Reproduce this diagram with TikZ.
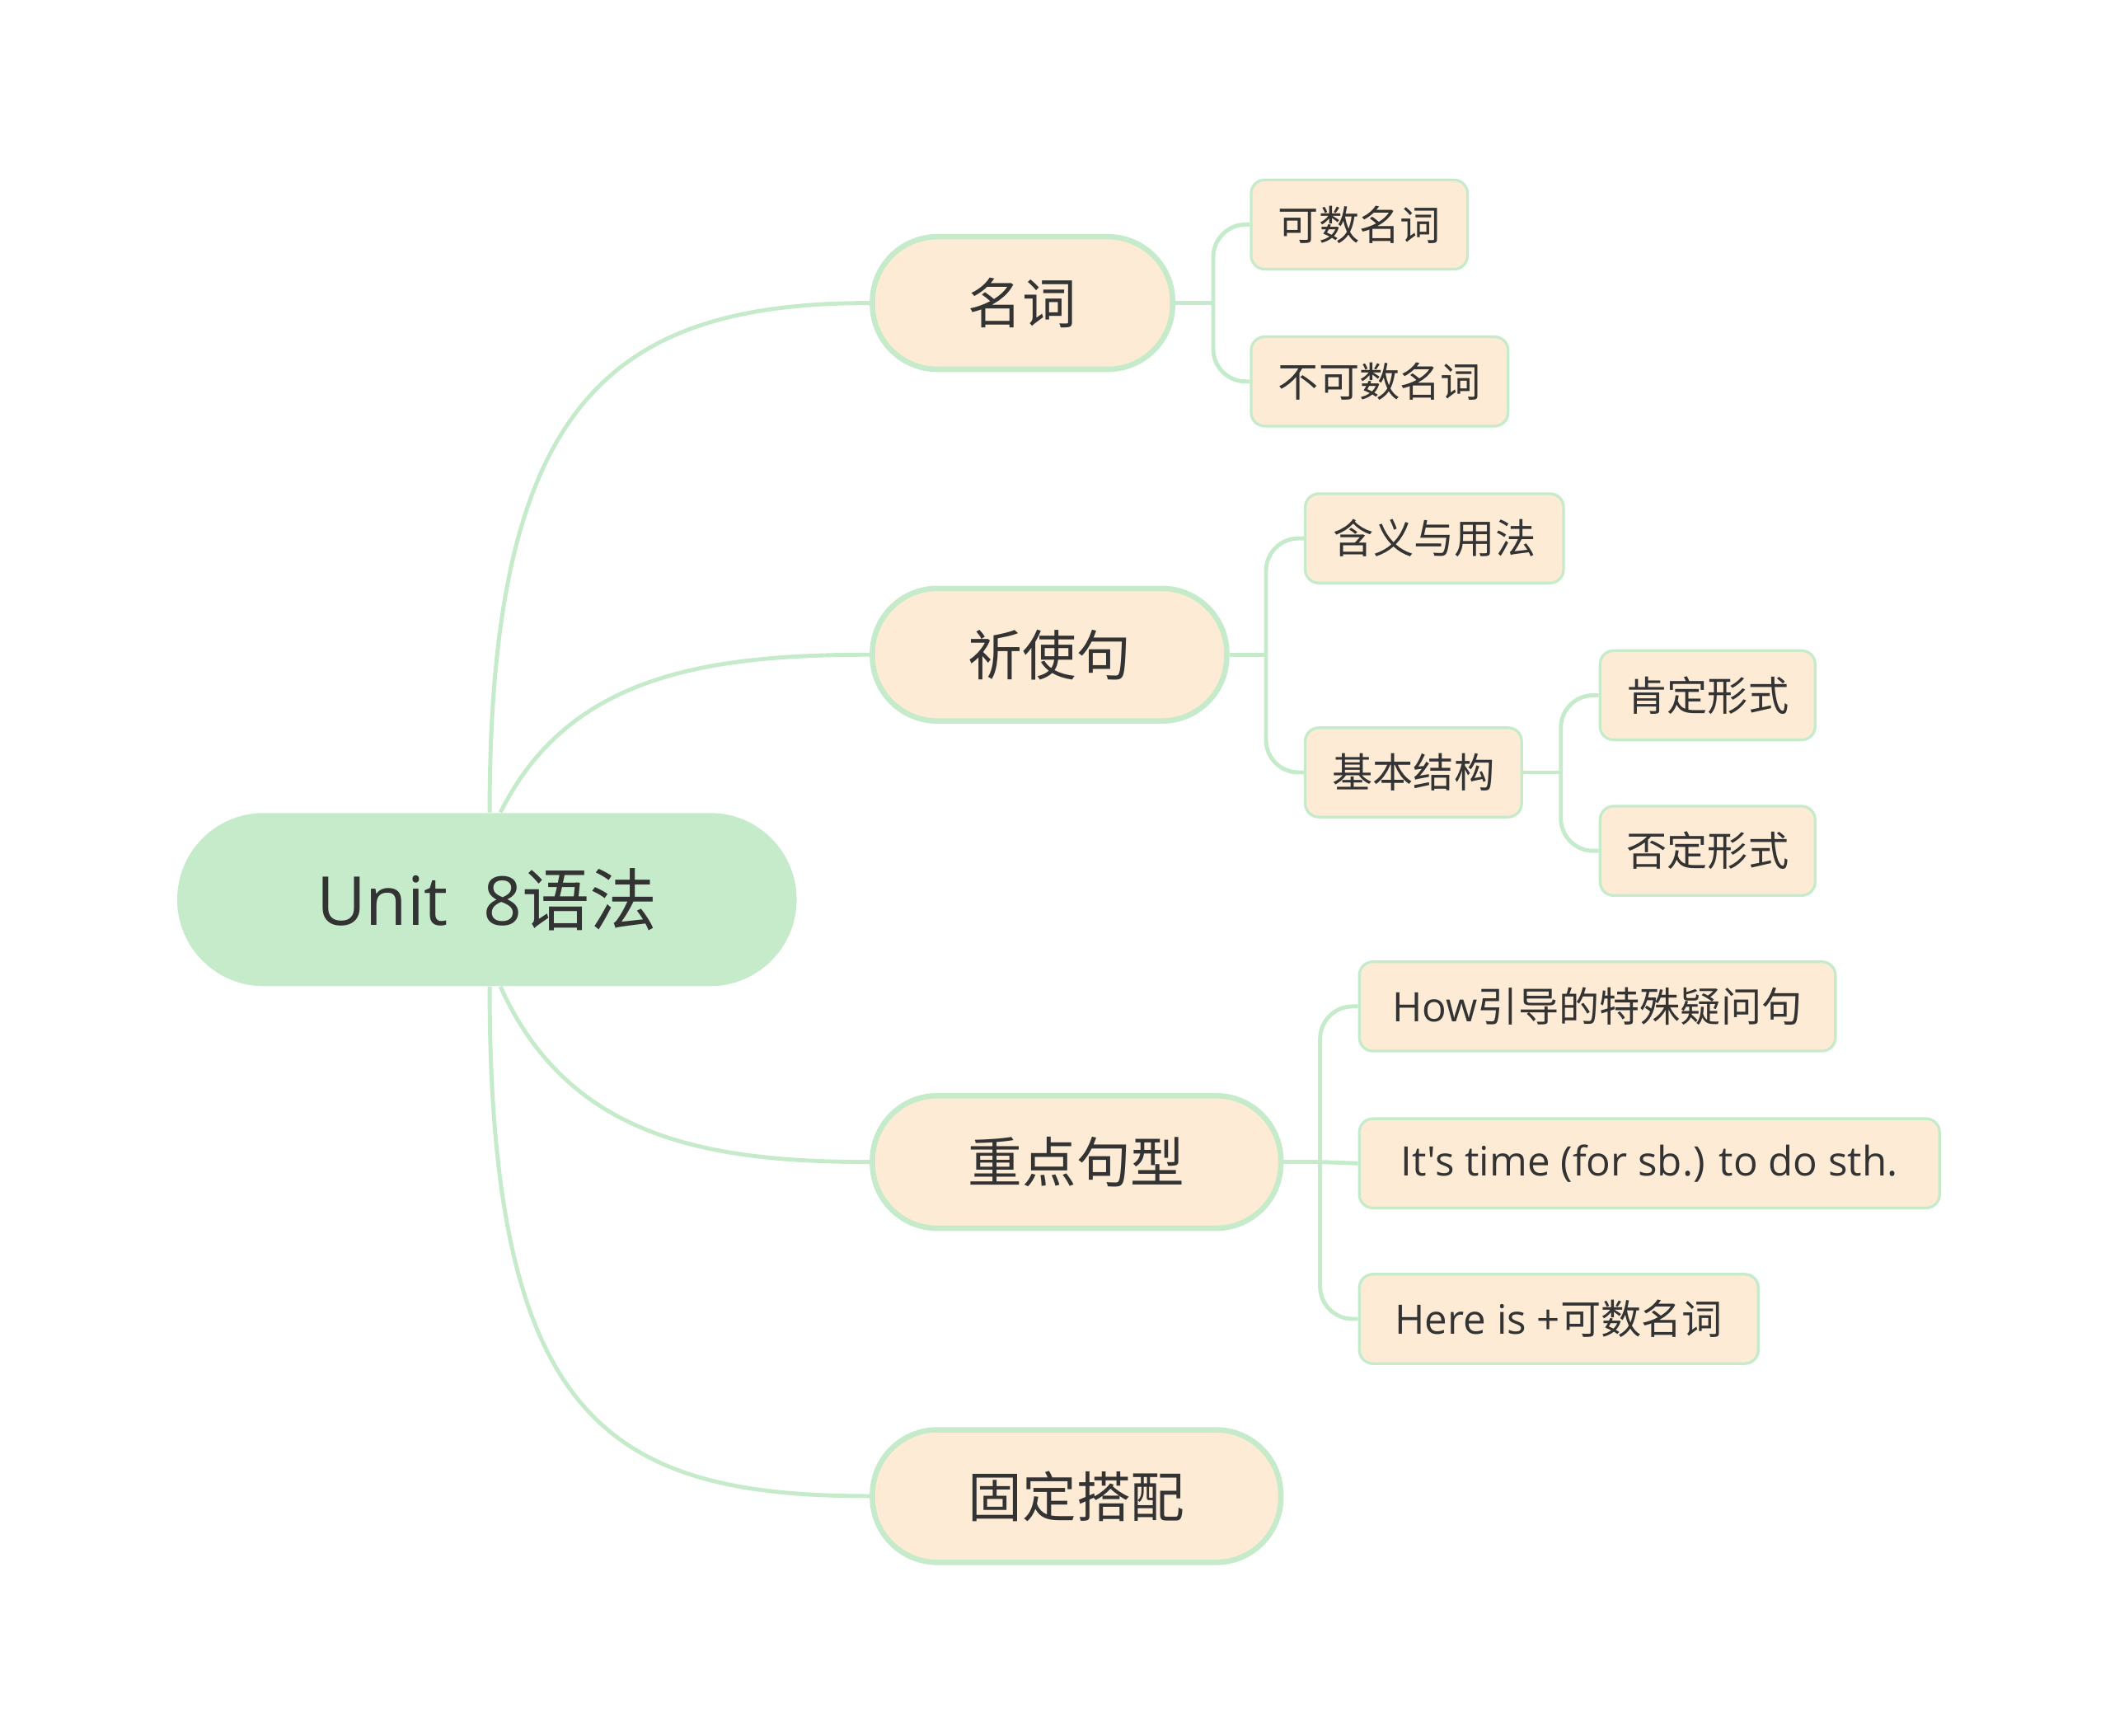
\documentclass[tikz,border=0pt]{standalone}
\usepackage{fontspec}
\setmainfont{Noto Sans CJK SC}
\newfontfamily\lat{Open Sans}
\definecolor{lg}{HTML}{C5EBCB}
\definecolor{pe}{HTML}{FDEBD5}
\definecolor{tx}{HTML}{333333}
\begin{document}
\begin{tikzpicture}[x=0.5pt,y=-0.5pt,
  rootn/.style={fill=lg,rounded corners=32pt,minimum width=229pt,minimum height=64pt,inner sep=0,text=tx,font=\fontsize{25}{30}\selectfont},
  mainn/.style={fill=pe,draw=lg,line width=2pt,rounded corners=24pt,minimum height=49pt,inner sep=0,text=tx,font=\fontsize{20}{24}\selectfont},
  leafn/.style={fill=pe,draw=lg,line width=1pt,rounded corners=5pt,minimum height=33pt,inner sep=0,text=tx,font=\fontsize{15}{18}\selectfont},
  conn/.style={draw=lg,line width=1.5pt}]
\useasboundingbox (0,0) rectangle (1560,1283);
\node[rootn] (root) at (360,665) {{\lat Unit\ \ 8}语法};
\node[mainn,minimum width=111pt] (m1) at (756,224) {名词};
\node[mainn,minimum width=131pt] (m2) at (776,484) {祈使句};
\node[mainn,minimum width=151pt] (m3) at (796,859) {重点句型};
\node[mainn,minimum width=151pt] (m4) at (796,1106) {固定搭配};
\node[leafn,minimum width=80pt] (a1) at (1005,166) {可数名词};
\node[leafn,minimum width=95pt] (a2) at (1020,282) {不可数名词};
\node[leafn,minimum width=95.5pt] (b1) at (1060.5,398) {含义与用法};
\node[leafn,minimum width=80pt] (b2) at (1045,571) {基本结构};
\node[leafn,minimum width=79.5pt] (c1) at (1262.5,514) {肯定形式};
\node[leafn,minimum width=79.5pt] (c2) at (1262.5,629) {否定形式};
\node[leafn,minimum width=176pt] (d1) at (1181,744) {{\lat How}引导的特殊疑问句};
\node[leafn,minimum width=214.5pt] (d2) at (1219.5,860) {\lat It's time (for sb.) to do sth.};
\node[leafn,minimum width=147.5pt] (d3) at (1152.5,975) {{\lat Here is +}可数名词};
\draw[conn] (root.north) ++(2,0) .. controls (362,300) and (450,224) .. (m1.west);
\draw[conn] (root.north) ++(10,0) .. controls (420,500) and (520,484) .. (m2.west);
\draw[conn] (root.south) ++(10,0) .. controls (420,840) and (520,859) .. (m3.west);
\draw[conn] (root.south) ++(2,0) .. controls (362,1050) and (450,1106) .. (m4.west);
\coordinate (j1) at (897,224);
\draw[conn] (m1.east) -- (j1);
\draw[conn,rounded corners=12pt] (j1) |- (a1.west);
\draw[conn,rounded corners=12pt] (j1) |- (a2.west);
\coordinate (j2) at (936,484);
\draw[conn] (m2.east) -- (j2);
\draw[conn,rounded corners=12pt] (j2) |- (b1.west);
\draw[conn,rounded corners=12pt] (j2) |- (b2.west);
\coordinate (j3) at (1154,571);
\draw[conn] (b2.east) -- (j3);
\draw[conn,rounded corners=12pt] (j3) |- (c1.west);
\draw[conn,rounded corners=12pt] (j3) |- (c2.west);
\coordinate (j4) at (976,859);
\draw[conn] (m3.east) -- (j4);
\draw[conn,rounded corners=12pt] (j4) |- (d1.west);
\draw[conn] (j4) -- (d2.west);
\draw[conn,rounded corners=12pt] (j4) |- (d3.west);
\end{tikzpicture}
\end{document}
